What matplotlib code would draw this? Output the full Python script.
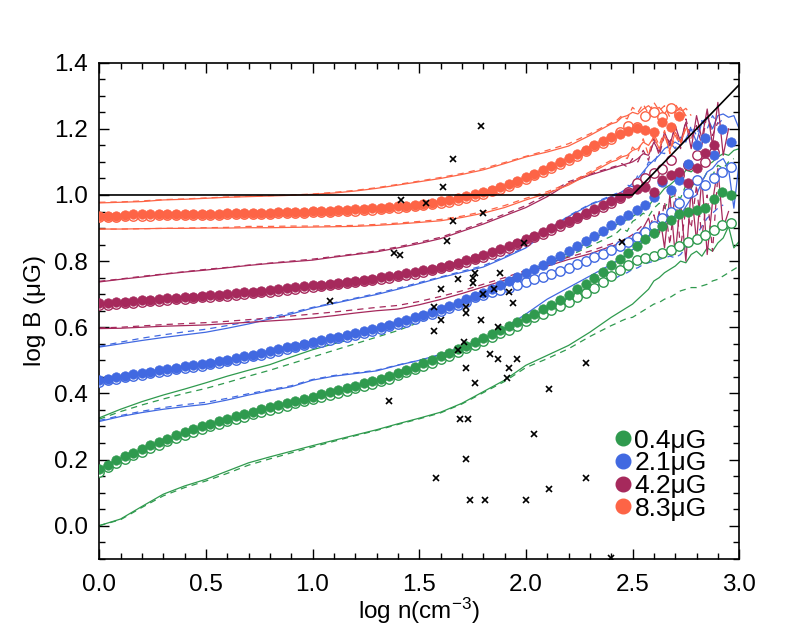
import numpy as np
import matplotlib
matplotlib.use('Agg')
import matplotlib.pyplot as plt
from matplotlib.lines import Line2D
from matplotlib.ticker import MultipleLocator

plt.rcParams['font.family'] = ['Liberation Sans', 'DejaVu Sans']
plt.rcParams['mathtext.fontset'] = 'custom'
plt.rcParams['mathtext.rm'] = 'Liberation Sans'
plt.rcParams['mathtext.it'] = 'Liberation Sans:italic'

nan = np.nan

# x grid of the binned medians (circles) and of the percentile lines
CX = np.arange(75) * 0.04
LX = np.round(np.concatenate([np.arange(0, 2.41, 0.1), np.arange(2.425, 3.001, 0.025)]), 3)

labels = ['0.4\u03bcG', '2.1\u03bcG', '4.2\u03bcG', '8.3\u03bcG']
colors = ['#2f9a4e', '#4169e1', '#a6295c', '#fd6446']

# ---- 8.3 uG
o_fill = [.937,.937,.937,.938,.941,.941,.941,.941,.941,.941,.941,.941,.941,.941,.942,.945,.945,.945,.945,.945,.946,.949,.949,.949,.949,
          .952,.953,.953,.955,.955,.957,.958,.960,.962,.964,.966,.968,.971,.974,.977,.981,.985,.990,.996,1.002,1.009,1.016,1.024,1.033,1.043,
          1.053,1.064,1.076,1.088,1.100,1.112,1.124,1.137,1.150,1.162,1.174,1.184,1.195,1.203,1.198,1.190,1.222,1.205,1.238,nan,nan,nan,nan,nan,nan]
o_open = [.932,.933,.934,.935,.937,.937,.937,.938,.938,.938,.938,.938,.938,.938,.939,.941,.941,.942,.942,.942,.943,.945,.945,.946,.946,
          .948,.949,.950,.951,.951,.953,.954,.956,.958,.960,.962,.964,.967,.969,.972,.976,.980,.985,.991,.997,1.004,1.011,1.019,1.028,1.038,
          1.048,1.059,1.071,1.083,1.095,1.107,1.119,1.132,1.148,1.158,1.170,1.190,1.210,1.205,1.240,1.250,1.235,1.262,1.245,nan,nan,nan,nan,nan,nan]
o_up = [.976,.978,.980,.985,.987,.990,.993,.995,.997,.999,1.002,1.006,1.012,1.020,1.030,1.040,1.050,1.062,1.076,1.095,1.115,1.130,1.148,1.180,1.215,
        1.220,1.235,1.240,1.250,1.245,1.260,1.270,1.255,1.265,1.245,1.270,1.250,1.265,1.240,nan,nan,nan,nan,nan,nan,nan,nan,nan,nan]
o_up_d = [.978,.979,.982,.986,.988,.991,.994,.996,.998,1.000,1.003,1.008,1.014,1.022,1.032,1.042,1.053,1.065,1.080,1.098,1.117,1.135,1.155,1.185,1.218,
          1.225,1.240,1.230,1.265,1.250,1.275,1.245,1.280,1.255,1.270,1.235,1.275,1.250,1.262,1.240,nan,nan,nan,nan,nan,nan,nan,nan,nan]
o_lo = [.897,.897,.898,.899,.899,.900,.900,.901,.901,.902,.903,.904,.905,.908,.912,.917,.922,.932,.945,.962,.985,1.005,1.030,1.065,1.100,
        1.105,1.115,1.120,1.135,1.140,1.160,1.150,1.175,1.140,1.180,1.135,1.190,1.160,1.200,nan,nan,nan,nan,nan,nan,nan,nan,nan,nan]
o_lo_d = [.897,.897,.898,.899,.900,.901,.902,.905,.905,.906,.906,.907,.908,.911,.915,.920,.926,.936,.950,.968,.990,1.010,1.035,1.070,1.105,
          1.110,1.120,1.110,1.145,1.130,1.170,1.120,1.185,1.150,1.195,1.125,1.180,1.150,1.210,1.170,nan,nan,nan,nan,nan,nan,nan,nan,nan]

# ---- 4.2 uG
p_fill = [.672,.672,.675,.677,.679,.681,.683,.685,.687,.689,.691,.693,.695,.697,.699,.701,.704,.706,.708,.711,.713,.716,.719,.721,.724,
          .727,.729,.732,.735,.738,.741,.744,.747,.751,.755,.759,.763,.767,.772,.777,.783,.789,.795,.802,.810,.818,.827,.836,.846,.856,
          .866,.877,.888,.899,.911,.922,.934,.946,.958,.970,.982,.994,1.006,1.018,1.025,1.010,1.045,1.060,1.070,1.035,1.082,1.127,1.150,nan,nan]
p_open = [.667,.668,.670,.672,.674,.676,.678,.680,.682,.684,.686,.688,.690,.692,.694,.696,.699,.701,.703,.706,.708,.711,.714,.716,.719,
          .722,.724,.727,.730,.733,.736,.739,.742,.746,.750,.754,.758,.762,.767,.772,.778,.784,.790,.797,.805,.813,.822,.831,.841,.851,
          .861,.872,.883,.894,.906,.917,.929,.941,.953,.965,.977,.990,1.010,1.035,1.050,1.066,1.080,1.105,1.060,1.090,1.120,1.100,1.130,nan,nan]
p_up = [.737,.745,.752,.760,.767,.773,.780,.787,.793,.798,.803,.812,.820,.828,.840,.853,.868,.890,.912,.937,.962,.995,1.035,1.060,1.080,
        1.085,1.090,1.095,1.100,1.110,1.125,1.120,1.160,1.130,1.190,1.150,1.210,1.160,1.220,1.140,1.240,1.170,1.260,1.150,1.280,1.120,1.200,nan,nan]
p_up_d = [.739,.746,.754,.761,.768,.775,.781,.788,.794,.800,.806,.814,.822,.831,.843,.857,.872,.894,.917,.942,.968,1.002,1.040,1.063,1.083,
          1.088,1.095,1.085,1.110,1.100,1.135,1.105,1.170,1.120,1.180,1.160,1.200,1.140,1.230,1.170,1.210,1.150,1.250,1.180,1.220,nan,nan,nan,nan]
p_lo = [.596,.597,.600,.603,.605,.607,.611,.615,.619,.623,.628,.635,.643,.650,.655,.668,.684,.702,.722,.742,.765,.785,.805,.822,.845,
        .850,.855,.860,.870,.880,.900,.930,.870,.950,.840,1.000,.820,.980,.800,1.020,.860,1.050,.820,.980,1.080,.900,.950,nan,nan]
p_lo_d = [.598,.600,.604,.608,.611,.614,.618,.623,.628,.634,.640,.646,.653,.660,.666,.678,.693,.710,.730,.750,.772,.792,.812,.830,.852,
          .858,.862,.870,.880,.895,.910,.890,.940,.880,.980,.850,1.010,.840,.960,.900,1.030,.870,1.000,.830,1.060,nan,nan,nan,nan]

# ---- 2.1 uG
b_fill = [.440,.445,.450,.454,.458,.462,.466,.470,.474,.478,.482,.486,.489,.493,.497,.502,.507,.512,.517,.522,.528,.533,.539,.544,.550,
          .556,.561,.566,.571,.576,.582,.588,.594,.601,.608,.615,.622,.630,.638,.646,.655,.664,.674,.684,.694,.705,.716,.727,.739,.751,
          .763,.776,.789,.802,.816,.830,.845,.860,.876,.892,.908,.924,.940,.956,.970,.995,1.040,1.015,1.045,1.095,1.150,1.172,1.120,1.200,1.160]
b_open = [.435,.440,.445,.449,.453,.457,.461,.465,.469,.473,.477,.481,.484,.488,.492,.497,.502,.507,.512,.517,.523,.528,.534,.539,.545,
          .551,.556,.561,.566,.571,.577,.583,.589,.596,.603,.610,.617,.625,.633,.641,.650,.659,.668,.677,.690,.699,.706,.713,.720,.728,
          .737,.745,.753,.762,.771,.780,.790,.800,.811,.822,.833,.845,.858,.872,.888,.905,.930,.950,.975,1.006,1.045,1.030,1.050,1.070,1.085]
b_up = [.540,.550,.560,.569,.577,.585,.597,.610,.625,.640,.658,.672,.686,.699,.715,.732,.750,.766,.782,.810,.840,.890,.935,.970,.995,
        1.000,1.010,1.020,1.035,1.050,1.070,1.090,1.105,1.120,1.140,1.150,1.160,1.150,1.170,1.200,1.160,1.220,1.235,1.200,1.240,1.245,1.235,1.240,1.200]
b_up_d = [.542,.555,.567,.577,.586,.594,.605,.617,.630,.644,.660,.674,.688,.702,.718,.735,.752,.769,.786,.813,.843,.892,.937,.972,.998,
          1.005,1.000,1.030,1.025,1.060,1.060,1.100,1.095,1.130,1.125,1.160,1.140,1.175,1.160,1.210,1.180,1.225,1.200,1.240,1.215,1.230,nan,nan,nan]
b_lo = [.315,.330,.342,.352,.360,.367,.380,.395,.408,.420,.440,.452,.460,.468,.485,.500,.518,.540,.565,.598,.640,.685,.720,.755,.790,
        .800,.810,.820,.835,.845,.860,.875,.885,.900,.905,.920,.930,.940,.965,.990,1.000,1.040,1.070,1.080,1.100,1.110,1.080,.960,1.100]
b_lo_d = [.318,.333,.346,.357,.366,.373,.385,.399,.411,.423,.442,.454,.462,.470,.486,.500,.516,.535,.556,.590,.622,.660,.690,.720,.745,
          .750,.760,.765,.775,.780,.790,.795,.800,.805,.810,.815,.810,.820,.840,.860,.880,.905,.930,.945,.960,.970,nan,nan,nan]

# ---- 0.4 uG
g_fill = [.170,.184,.198,.210,.221,.232,.243,.253,.263,.273,.282,.291,.300,.308,.316,.324,.331,.338,.345,.352,.358,.365,.371,.378,.384,
          .390,.397,.403,.410,.416,.423,.430,.437,.444,.452,.463,.472,.481,.491,.501,.512,.522,.533,.544,.555,.567,.579,.591,.603,.615,
          .628,.640,.654,.668,.683,.699,.715,.732,.750,.768,.787,.806,.826,.847,.868,.885,.905,.925,.943,.950,.955,.960,.988,1.008,1.000]
g_open = [.162,.176,.190,.202,.213,.224,.235,.245,.255,.265,.274,.283,.292,.300,.308,.316,.323,.330,.337,.344,.350,.357,.363,.370,.376,
          .382,.389,.395,.402,.408,.415,.422,.429,.436,.444,.455,.464,.473,.483,.493,.504,.514,.525,.536,.547,.559,.570,.582,.593,.605,
          .618,.630,.641,.652,.664,.677,.690,.704,.720,.738,.755,.772,.788,.802,.810,.815,.824,.834,.846,.858,.868,.879,.895,.909,.915]
g_up = [.326,.352,.375,.395,.413,.432,.452,.470,.487,.510,.532,.550,.567,.583,.602,.625,.650,.678,.705,.732,.765,.795,.825,.860,.900,
        .910,.920,.925,.935,.945,.960,.965,.990,1.000,1.020,1.030,1.045,1.050,1.075,1.070,1.085,1.090,1.090,1.100,1.115,1.125,1.120,1.135,1.140]
g_up_d = [.322,.345,.365,.383,.400,.415,.433,.452,.470,.490,.510,.530,.550,.570,.590,.615,.642,.672,.700,.728,.760,.790,.815,.845,.875,
          .885,.900,.890,.920,.930,.945,.935,.960,.975,.960,.990,1.000,.990,1.030,1.020,1.050,1.040,1.070,1.060,1.090,1.080,1.100,1.110,nan]
g_lo = [.000,.020,.058,.095,.120,.140,.165,.190,.208,.225,.242,.258,.274,.290,.308,.325,.343,.370,.405,.440,.485,.515,.545,.585,.630,
        .640,.650,.660,.670,.685,.700,.715,.740,.750,.765,.775,.785,.800,.795,.820,.830,.815,.840,.830,.855,.870,.905,.840,.860]
g_lo_d = [.000,.018,.055,.090,.115,.135,.158,.183,.202,.220,.238,.255,.272,.288,.306,.323,.341,.368,.402,.436,.478,.505,.535,.572,.605,
          .612,.620,.627,.630,.640,.650,.660,.670,.675,.685,.690,.700,.710,.715,.720,.720,.725,.730,.740,.745,.755,.765,.775,.785]

# observed clouds
obs_x = [1.79,1.66,1.61,1.415,1.53,1.80,1.66,1.63,1.99,2.45,1.38,1.41,1.08,1.60,1.68,1.75,1.76,1.88,1.75,1.80,
         1.85,1.92,1.94,1.57,1.72,1.72,1.79,1.60,1.57,1.87,1.71,1.68,1.83,1.87,1.96,1.72,1.92,1.91,1.76,2.28,
         2.11,1.36,1.69,1.73,2.04,1.72,1.58,2.28,2.11,1.74,1.81,2.00,2.40]
obs_y = [1.21,1.11,1.025,.985,.975,.945,.92,.86,.855,.858,.825,.819,.68,.716,.746,.749,.764,.764,.734,.70,
         .716,.707,.672,.662,.662,.643,.622,.622,.59,.601,.556,.532,.518,.505,.505,.477,.477,.447,.432,.492,
         .414,.378,.323,.323,.278,.202,.145,.145,.112,.079,.079,.079,-.097]

# reference relation: flat, then n^(2/3)
ref_x = [0.0, 2.5, 3.0]
ref_y = [1.0, 1.0, 1.3333]

groups = [
    (g_fill, g_open, g_up, g_up_d, g_lo, g_lo_d),
    (b_fill, b_open, b_up, b_up_d, b_lo, b_lo_d),
    (p_fill, p_open, p_up, p_up_d, p_lo, p_lo_d),
    (o_fill, o_open, o_up, o_up_d, o_lo, o_lo_d),
]

fig = plt.figure(figsize=(8, 6.4), dpi=100)
ax = fig.add_axes([0.124, 0.127, 0.8, 0.775])

for (fill, opn, up, upd, lo, lod), c in zip(groups, colors):
    ax.plot(LX, up, '-', color=c, lw=0.9, zorder=2)
    ax.plot(LX, lo, '-', color=c, lw=0.9, zorder=2)
    ax.plot(LX, upd, color=c, lw=0.9, ls=(0, (5, 4)), zorder=2)
    ax.plot(LX, lod, color=c, lw=0.9, ls=(0, (5, 4)), zorder=2)
for (fill, opn, up, upd, lo, lod), c in zip(groups, colors):
    ax.plot(CX, opn, 'o', ms=6.8, mfc='white', mec=c, mew=1.0, zorder=3)
    ax.plot(CX, fill, 'o', ms=6.8, mfc=c, mec=c, mew=0.5, zorder=4)

ax.plot(obs_x, obs_y, 'x', color='k', ms=5, mew=1.2, zorder=5)
ax.plot(ref_x, ref_y, '-', color='k', lw=1.2, zorder=6)

ax.set_xlim(0, 3.0)
ax.set_ylim(-0.1, 1.4)
ax.xaxis.set_major_locator(MultipleLocator(0.5))
ax.xaxis.set_minor_locator(MultipleLocator(0.1))
ax.yaxis.set_major_locator(MultipleLocator(0.2))
ax.yaxis.set_minor_locator(MultipleLocator(0.05))
ax.xaxis.set_major_formatter(matplotlib.ticker.FormatStrFormatter('%.1f'))
ax.yaxis.set_major_formatter(matplotlib.ticker.FormatStrFormatter('%.1f'))
ax.tick_params(which='both', direction='in', top=True, right=True, width=1.0, labelsize=17.5)
ax.tick_params(axis='x', pad=11)
ax.tick_params(axis='y', pad=8)
ax.tick_params(which='major', length=7.5)
ax.tick_params(which='minor', length=4)
for s in ax.spines.values():
    s.set_linewidth(1.2)

ax.set_xlabel('log n(cm$^{-3}$)', fontsize=17.5, labelpad=0)
ax.set_ylabel('log B (\u03bcG)', fontsize=17.5, labelpad=6)

handles = [Line2D([], [], ls='none', marker='o', ms=10.5, mfc=c, mec=c) for c in colors]
ax.legend(handles, labels, loc='lower right', bbox_to_anchor=(0.97, 0.05), frameon=False,
          fontsize=19, handlelength=0.6, handletextpad=0.15, labelspacing=-0.05, borderpad=0)

fig.savefig('out.png', dpi=100)
